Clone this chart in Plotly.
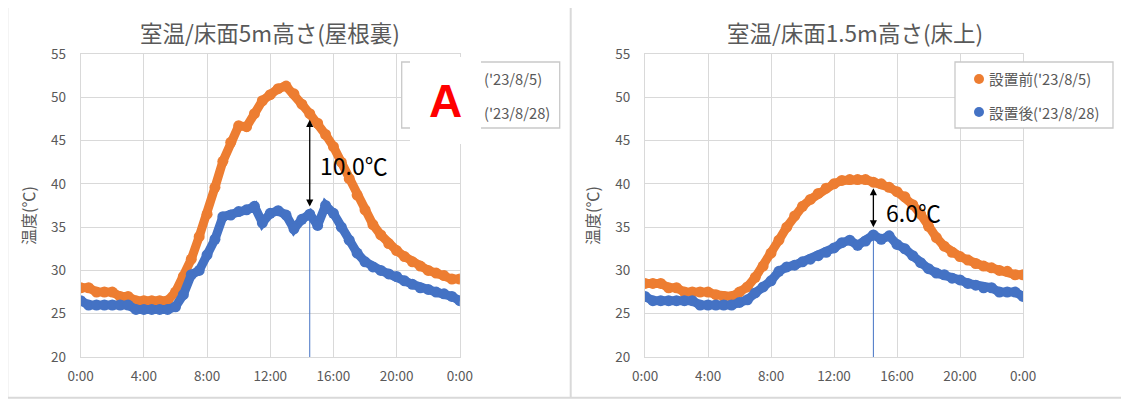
import plotly.graph_objects as go

# ---------------- data ----------------
times = [i * 0.5 for i in range(49)]  # hours 0:00 .. 24:00, 30-min steps

attic_before = [28, 28, 27.5, 27.5, 27.5, 27, 27, 26.5, 26.5, 26.5, 26.5, 26.5,
                27.5, 29.3, 31.3, 33.9, 36.5, 39.6, 42.6, 44.8, 46.7, 46.6, 48.1, 49.6,
                50.3, 51.0, 51.3, 50.4, 49.2, 48.1, 47.0, 45.7, 44.3, 42.5, 40.6, 38.7,
                37.0, 35.3, 34.1, 33.1, 32.3, 31.6, 31.0, 30.5, 30.0, 29.7, 29.4, 29.0, 29.0]
attic_after = [26.5, 26, 26, 26, 26, 26, 26, 25.5, 25.5, 25.5, 25.5, 25.5,
               25.8, 27.2, 29.5, 30.0, 31.8, 33.6, 36.2, 36.4, 36.8, 37.0, 37.4, 35.5,
               36.6, 36.9, 36.4, 34.8, 35.9, 36.5, 35.2, 37.5, 36.6, 35.0, 33.5, 32.0,
               31.0, 30.4, 30.0, 29.6, 29.3, 28.8, 28.4, 28.0, 27.8, 27.5, 27.3, 27.0, 26.5]
floor_before = [28.5, 28.5, 28.5, 28, 28, 27.5, 27.5, 27.5, 27.5, 27.2, 27, 27,
                27.5, 28.1, 29.2, 30.5, 32, 33.5, 35, 36.3, 37.4, 38.2, 38.9, 39.5,
                40.0, 40.4, 40.5, 40.5, 40.5, 40.2, 40.0, 39.6, 39.1, 38.5, 37.6, 36.5,
                35.1, 33.8, 32.8, 32.1, 31.6, 31.2, 30.8, 30.5, 30.3, 30.0, 29.9, 29.5, 29.5]
floor_after = [27, 26.5, 26.5, 26.5, 26.5, 26.5, 26.5, 26, 26, 26, 26, 26,
               26.3, 26.6, 27.4, 28.1, 28.8, 29.9, 30.4, 30.6, 31.0, 31.3, 31.7, 32.1,
               32.6, 33.2, 33.5, 32.9, 33.4, 34.1, 33.6, 34.0, 33.0, 32.5, 31.7, 30.9,
               30.2, 29.7, 29.5, 29.1, 28.9, 28.5, 28.3, 28.0, 28.0, 27.5, 27.5, 27.5, 27.0]

x_tick_vals = [0, 4, 8, 12, 16, 20, 24]
x_tick_text = ["0:00", "4:00", "8:00", "12:00", "16:00", "20:00", "0:00"]
titles = ["室温/床面5m高さ(屋根裏)", "室温/床面1.5m高さ(床上)"]
series_names = ["設置前('23/8/5)", "設置後('23/8/28)"]
y_title = "温度(℃)"
diff_labels = ["10.0℃", "6.0℃"]
marker_time = 14.5

# ---------------- style ----------------
W, H = 1129, 401
OFF = 8  # page body margin of the browser
ORANGE = "#ED7D31"
BLUE = "#4472C4"
GRID = "#D9D9D9"
TXT = "#595959"
FONT = "Noto Sans CJK JP"


def px(x):
    return (x - OFF) / W


def py(y):
    return 1 - (y - OFF) / H


fig = go.Figure()

panels = [
    dict(before=attic_before, after=attic_after, xa="x", ya="y",
         dom=(80.7, 459.8), title_x=270, ytitle_x=28, legend_x=401.7,
         label_x=318, label_y=165, covered=True),
    dict(before=floor_before, after=floor_after, xa="x2", ya="y2",
         dom=(645, 1023), title_x=855, ytitle_x=592, legend_x=955,
         label_x=884, label_y=212, covered=False),
]

annotations = []
shapes = []

for i, p in enumerate(panels):
    for vals, col, name in [(p["before"], ORANGE, series_names[0]),
                            (p["after"], BLUE, series_names[1])]:
        fig.add_trace(go.Scatter(
            x=times, y=vals, mode="lines+markers", name=name,
            line=dict(color=col, width=9), marker=dict(color=col, size=11),
            xaxis=p["xa"], yaxis=p["ya"], showlegend=False, hoverinfo="skip"))

    idx = times.index(marker_time)
    b_top = p["before"][idx]
    a_top = p["after"][idx]
    # thin blue drop line
    shapes.append(dict(type="line", xref=p["xa"], yref=p["ya"],
                       x0=marker_time, x1=marker_time, y0=20, y1=a_top,
                       line=dict(color=BLUE, width=1), layer="above"))
    # double arrow
    annotations.append(dict(xref=p["xa"], yref=p["ya"], axref=p["xa"], ayref=p["ya"],
                            x=marker_time, y=b_top - 0.7, ax=marker_time, ay=a_top + 0.7,
                            text="", showarrow=True, arrowhead=2, startarrowhead=2,
                            arrowside="end+start", arrowwidth=1.3, arrowsize=1.1,
                            arrowcolor="black", standoff=0, startstandoff=0))
    annotations.append(dict(xref="paper", yref="paper", x=px(p["label_x"]), y=py(p["label_y"]),
                            xanchor="left", yanchor="middle", text=diff_labels[i],
                            showarrow=False, font=dict(family=FONT, size=23, color="black")))
    # title
    annotations.append(dict(xref="paper", yref="paper", x=px(p["title_x"]), y=py(32),
                            xanchor="center", yanchor="middle", text=titles[i],
                            showarrow=False, font=dict(family=FONT, size=22.5, color=TXT)))
    # y title
    annotations.append(dict(xref="paper", yref="paper", x=px(p["ytitle_x"]), y=py(216),
                            xanchor="center", yanchor="middle", text=y_title, textangle=-90,
                            showarrow=False, font=dict(family=FONT, size=16, color=TXT)))
    # legend box
    lx = p["legend_x"]
    shapes.append(dict(type="rect", xref="paper", yref="paper",
                       x0=px(lx), x1=px(lx + 158), y0=py(62), y1=py(128),
                       line=dict(color="#C9C9C9", width=1.3), fillcolor="white", layer="above"))
    for j, (col, name, yy) in enumerate([(ORANGE, series_names[0], 79),
                                         (BLUE, series_names[1], 112)]):
        if p["covered"]:
            # only the part not hidden by the "A" box is visible
            visible = name[name.index("("):]
            annotations.append(dict(xref="paper", yref="paper", x=px(482), y=py(yy),
                                    xanchor="left", yanchor="middle", text=visible,
                                    showarrow=False,
                                    font=dict(family=FONT, size=14.7, color=TXT)))
        else:
            shapes.append(dict(type="circle", xref="paper", yref="paper",
                               x0=px(lx + 19), x1=px(lx + 29), y0=py(yy - 5), y1=py(yy + 5),
                               fillcolor=col, line=dict(width=0), layer="above"))
            annotations.append(dict(xref="paper", yref="paper", x=px(lx + 32), y=py(yy),
                                    xanchor="left", yanchor="middle", text=name,
                                    showarrow=False,
                                    font=dict(family=FONT, size=14.7, color=TXT)))

# white cover with red "A" on the left legend
annotations.append(dict(xref="paper", yref="paper", x=px(445.5), y=py(100.5),
                        xanchor="center", yanchor="middle", text="<b>A</b>", showarrow=False,
                        width=71, height=87, bgcolor="white", borderpad=0, borderwidth=0,
                        font=dict(family="Liberation Sans", size=46, color="#FF0000")))

# chart frames
for s in [dict(x0=7.3, x1=W + 10, y0=6, y1=6),
          dict(x0=7.3, x1=W + 10, y0=397.7, y1=397.7),
          dict(x0=7.3, x1=7.3, y0=6, y1=397.7),
          dict(x0=570.7, x1=570.7, y0=6, y1=397.7)]:
    shapes.append(dict(type="line", xref="paper", yref="paper",
                       x0=px(s["x0"]), x1=px(s["x1"]), y0=py(s["y0"]), y1=py(s["y1"]),
                       line=dict(color=GRID, width=2), layer="below"))

axis_common = dict(showgrid=True, gridcolor=GRID, gridwidth=1, zeroline=False,
                   showline=True, linecolor=GRID, linewidth=1, mirror=True,
                   ticks="", automargin=False, fixedrange=True,
                   tickfont=dict(family=FONT, size=13.5, color=TXT))

yd = [py(357), py(54)]
layout = dict(
    width=W, height=H, autosize=False,
    margin=dict(l=0, r=0, t=0, b=0),
    paper_bgcolor="white", plot_bgcolor="white",
    showlegend=False,
    annotations=annotations, shapes=shapes,
)
for k, p in enumerate(panels):
    sx = "" if k == 0 else "2"
    layout["xaxis" + sx] = dict(axis_common, domain=[px(p["dom"][0]), px(p["dom"][1])],
                                range=[0, 24], tickvals=x_tick_vals, ticktext=x_tick_text,
                                anchor="y" + sx, ticklabelstandoff=7)
    layout["yaxis" + sx] = dict(axis_common, domain=yd, range=[20, 55], dtick=5,
                                tick0=20, anchor="x" + sx, ticklabelstandoff=11)

fig.update_layout(**layout)
fig.write_html("out.html")
